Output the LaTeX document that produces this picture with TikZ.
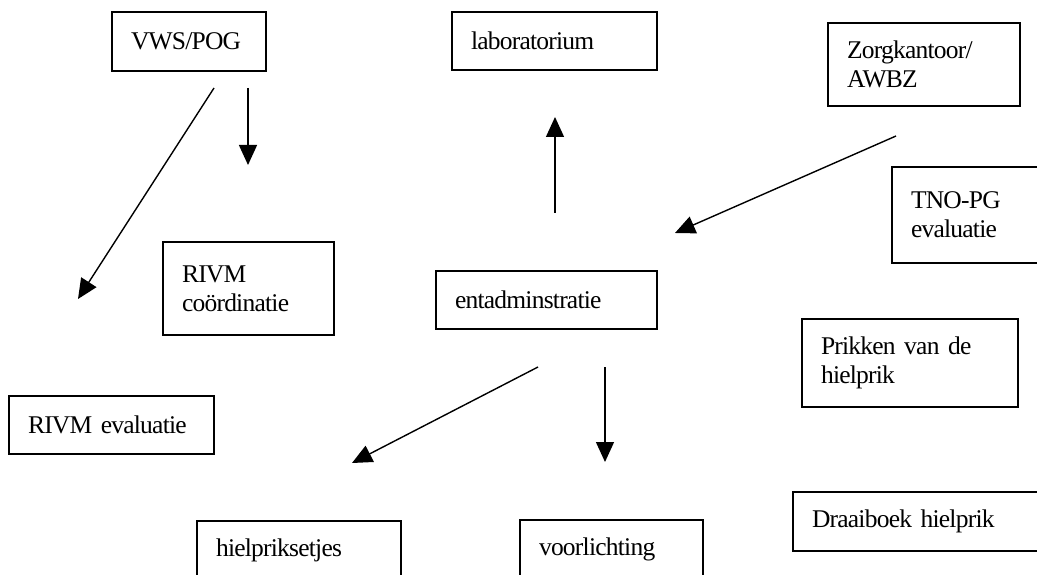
\documentclass[tikz,border=0pt]{standalone}
\usepackage{fontspec}
\setmainfont[LetterSpace=-3,WordSpace=0.3]{Liberation Serif}
\usetikzlibrary{arrows.meta}

\begin{document}
\begin{tikzpicture}[x=1pt,y=-1pt,
    box/.style={draw,line width=1.6pt,anchor=north west,outer sep=0pt,
      inner xsep=19pt,inner ysep=0pt,align=left,
      font=\fontsize{25.5}{29}\selectfont},
    arr/.style={line width=1.4pt,-{Triangle[length=20pt,width=18pt]}}]
      \useasboundingbox (0,0) rectangle (1037,575);
      \clip (0,0) rectangle (1037,575);
      \draw
        (112,12) node[box,minimum width=154,minimum height=59,text width=116pt] (vws){VWS/POG}
        (452,12) node[box,minimum width=205,minimum height=58,text width=167pt] (lab){laboratorium}
        (828,23) node[box,minimum width=192,minimum height=83,text width=154pt] (zorg){Zorgkantoor/\\AWBZ}
        (892,167) node[box,minimum width=160,minimum height=96,text width=122pt] (tno){TNO-PG\\evaluatie}
        (163,242) node[box,minimum width=171,minimum height=93,text width=133pt] (rivmc){RIVM\\coördinatie}
        (436,271) node[box,minimum width=221,minimum height=58,text width=183pt] (ent){entadminstratie}
        (802,319) node[box,minimum width=216,minimum height=88,text width=178pt] (prik){Prikken van de\\hielprik}
        (9,396) node[box,minimum width=205,minimum height=58,text width=167pt] (rivme){RIVM evaluatie}
        (793,492) node[box,minimum width=250,minimum height=59,text width=212pt] (draai){Draaiboek hielprik}
        (197,521) node[box,minimum width=204,minimum height=58,text width=166pt] (setjes){hielpriksetjes}
        (520,520) node[box,minimum width=183,minimum height=58,text width=145pt] (voorl){voorlichting};
      % loose arrow ends
      \coordinate (vws-l) at (214,88);
      \coordinate (vws-ll) at (78,299);
      \coordinate (vws-r) at (248,88);
      \coordinate (vws-rr) at (248,165);
      \coordinate (lab-b) at (555,213);
      \coordinate (lab-t) at (555,117);
      \coordinate (zorg-a) at (896,136);
      \coordinate (zorg-b) at (675,233);
      \coordinate (ent-l) at (538,367);
      \coordinate (ent-ll) at (352,463);
      \coordinate (ent-r) at (605,367);
      \coordinate (ent-rr) at (605,462);
      \begin{scope}[arr]
        \draw (vws-l) -- (vws-ll);
        \draw (vws-r) -- (vws-rr);
        \draw (lab-b) -- (lab-t);
        \draw (zorg-a) -- (zorg-b);
        \draw (ent-l) -- (ent-ll);
        \draw (ent-r) -- (ent-rr);
      \end{scope}
    \end{tikzpicture}
\end{document}
